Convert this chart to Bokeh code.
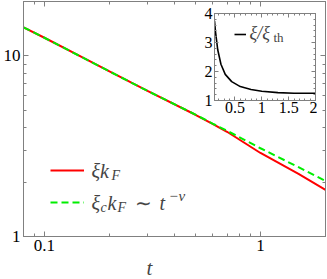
from bokeh.plotting import figure
from bokeh.models import (LogAxis, LinearAxis, FixedTicker, Range1d, Legend, LegendItem,
                          Label, CustomJSTickFormatter, SingleIntervalTicker, Title)
from bokeh.layouts import column
from bokeh.core.properties import value
from bokeh.embed import file_html
from bokeh.resources import INLINE

# ---- data ----
t_vals = [0.08, 0.1, 0.15, 0.2, 0.3, 0.5, 0.6, 0.7, 1.0, 1.5, 2.0]
xi_kF = [14.4, 12.6, 9.8, 8.2, 6.4, 4.72, 4.2, 3.80, 2.90, 2.22, 1.81]
xic_kF = [14.4, 12.6, 9.8, 8.2, 6.4, 4.73, 4.22, 3.85, 3.08, 2.42, 2.03]

inset_t = [0.12, 0.14, 0.18, 0.24, 0.32, 0.44, 0.6, 0.8, 1.0, 1.3, 1.6, 2.0]
inset_ratio = [3.75, 3.35, 2.75, 2.25, 1.9, 1.65, 1.48, 1.38, 1.32, 1.27, 1.25, 1.25]

x_major = [0.1, 1]
x_minor = [0.08, 0.09, 0.2, 0.3, 0.4, 0.5, 0.6, 0.7, 0.8, 0.9, 2]
y_major = [1, 10]
y_minor = [2, 3, 4, 5, 6, 7, 8, 9, 20]

SERIF = "'Liberation Serif'"
GRAY = "#808080"
W, H = 327, 279


def style_axis(ax, labels=True, size="17px", major=5, minor=3):
    ax.axis_line_color = GRAY
    ax.major_tick_line_color = GRAY
    ax.minor_tick_line_color = GRAY
    ax.major_tick_in = major
    ax.major_tick_out = 0
    ax.minor_tick_in = minor
    ax.minor_tick_out = 0
    ax.major_label_text_font = SERIF
    ax.major_label_text_color = "black"
    ax.major_label_text_line_height = 1.0
    if labels:
        ax.major_label_text_font_size = size
        ax.major_label_standoff = 3
        ax.formatter = CustomJSTickFormatter(code="return tick.toString()")
    else:
        ax.major_label_text_font_size = "1px"
        ax.major_label_standoff = 0
        ax.formatter = CustomJSTickFormatter(code="return ''")


# ---- main plot ----
p = figure(width=W, height=H, x_axis_type="log", y_axis_type="log",
           x_range=Range1d(0.08, 2), y_range=Range1d(1, 20),
           output_backend="svg", toolbar_location=None,
           min_border_left=22, min_border_right=1, min_border_top=1, min_border_bottom=2)
p.xgrid.visible = False
p.ygrid.visible = False
p.outline_line_color = GRAY
p.background_fill_color = "white"

p.xaxis.ticker = FixedTicker(ticks=x_major, minor_ticks=x_minor)
p.yaxis.ticker = FixedTicker(ticks=y_major, minor_ticks=y_minor)
style_axis(p.xaxis[0])
style_axis(p.yaxis[0])

top_ax = LogAxis(ticker=FixedTicker(ticks=x_major, minor_ticks=x_minor))
style_axis(top_ax, labels=False)
p.add_layout(top_ax, "above")
right_ax = LogAxis(ticker=FixedTicker(ticks=y_major, minor_ticks=y_minor))
style_axis(right_ax, labels=False)
p.add_layout(right_ax, "right")

# axis label t as a bottom title, offset from the left edge
p.add_layout(Title(text="t", text_font=SERIF, text_font_style="italic", text_font_size="21px",
                   text_line_height=1.0, align="left", offset=123, standoff=0), "below")

r_red = p.line(t_vals, xi_kF, line_color="#ff0000", line_width=2)
r_green = p.line(t_vals, xic_kF, line_color="#00ee00", line_width=2, line_dash="7 4")

legend = Legend(items=[LegendItem(label=value(" "), renderers=[r_red]),
                       LegendItem(label=value(" "), renderers=[r_green])],
                location=(27, 24), orientation="vertical", glyph_width=34, glyph_height=20,
                label_width=0, label_height=20, label_standoff=0, spacing=12,
                padding=0, margin=0, background_fill_alpha=0, border_line_alpha=0)
p.add_layout(legend)


def frag(fig, x, y, text, dx, dy=0, size="20px", style="italic"):
    fig.add_layout(Label(x=x, y=y, text=text, x_offset=dx, y_offset=dy, text_font=SERIF,
                         text_font_style=style, text_font_size=size,
                         text_align="left", text_baseline="middle"))


lx = 0.165
row1 = 2.305
row2 = 1.538
frag(p, lx, row1, "ξk", 0)
frag(p, lx, row1, "F", 20, -5, "14px")
frag(p, lx, row2, "ξ", 0)
frag(p, lx, row2, "c", 9, -5, "14px")
frag(p, lx, row2, "k", 16)
frag(p, lx, row2, "F", 26, -5, "14px")
frag(p, lx, row2, "∼", 44, 0, "20px", "normal")
frag(p, lx, row2, "t", 68)
frag(p, lx, row2, "−ν", 77, 7, "15px")

# ---- inset ----
q = figure(width=126, height=115, x_range=Range1d(0.12, 2), y_range=Range1d(1, 4),
           output_backend="svg", toolbar_location=None,
           min_border_left=14, min_border_right=2, min_border_top=9, min_border_bottom=19,
           margin=(4 - H, 0, 0, 191))
q.xgrid.visible = False
q.ygrid.visible = False
q.outline_line_color = GRAY
q.background_fill_color = "white"
q.border_fill_alpha = 0
q.xaxis.ticker = SingleIntervalTicker(interval=0.5, num_minor_ticks=5)
q.yaxis.ticker = SingleIntervalTicker(interval=1, num_minor_ticks=5)
style_axis(q.xaxis[0], size="16px", major=4, minor=2)
style_axis(q.yaxis[0], size="16px", major=4, minor=2)
q.xaxis[0].major_label_standoff = 1
q.yaxis[0].major_label_standoff = 2
qt = LinearAxis(ticker=SingleIntervalTicker(interval=0.5, num_minor_ticks=5))
style_axis(qt, labels=False, major=4, minor=2)
q.add_layout(qt, "above")
qr = LinearAxis(ticker=SingleIntervalTicker(interval=1, num_minor_ticks=5))
style_axis(qr, labels=False, major=4, minor=2)
q.add_layout(qr, "right")

r_in = q.line(inset_t, inset_ratio, line_color="black", line_width=1.6)
qleg = Legend(items=[LegendItem(label=value(" "), renderers=[r_in])],
              location=(20, 56), glyph_width=12, glyph_height=20, label_width=0,
              label_height=20, label_standoff=0, padding=0, margin=0,
              background_fill_alpha=0, border_line_alpha=0)
q.add_layout(qleg)
frag(q, 0.77, 3.33, "ξ/ξ", 0, 0, "18px")
frag(q, 0.77, 3.33, "th", 24, -5, "13px", "normal")

layout = column(p, q, spacing=0, width=W, height=H)
open("out.html", "w").write(file_html(layout, INLINE))
